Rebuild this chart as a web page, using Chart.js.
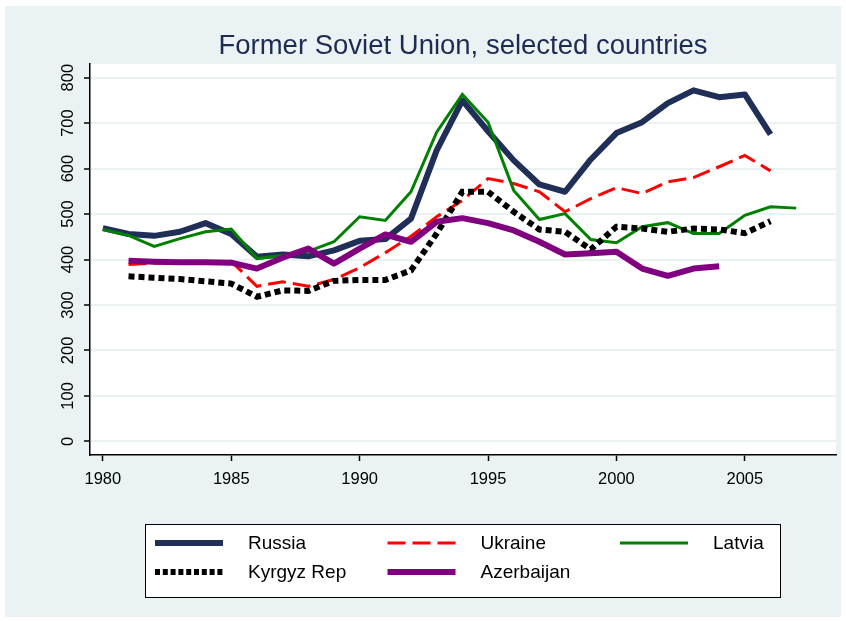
<!DOCTYPE html>
<html>
<head>
<meta charset="utf-8">
<script src="https://cdn.jsdelivr.net/npm/chart.js@4.4.0/dist/chart.umd.min.js"></script>
<style>
  html, body { margin: 0; padding: 0; background: #ffffff; }
  #wrap { width: 846px; height: 621px; }
</style>
</head>
<body>
<div id="wrap"><canvas id="sovietChart" width="846" height="621"></canvas></div>
<script>
"use strict";

// Values, one entry per year (null = no data)
const years = [1980, 1981, 1982, 1983, 1984, 1985, 1986, 1987, 1988, 1989,
               1990, 1991, 1992, 1993, 1994, 1995, 1996, 1997, 1998, 1999,
               2000, 2001, 2002, 2003, 2004, 2005, 2006, 2007];

const russia     = [469, 456, 452, 461, 480, 456, 406, 411, 407, 420,
                    441, 445, 490, 640, 750, 682, 618, 565, 549, 620,
                    678, 702, 744, 772, 757, 763, 675, null];
const ukraine    = [null, 389, 392, 393, 394, 396, 341, 351, 341, 356,
                    382, 415, 451, 494, 530, 578, 567, 549, 505, 534,
                    558, 545, 571, 580, 604, 629, 595, null];
const latvia     = [466, 453, 429, 446, 461, 467, 402, 409, 418, 439,
                    494, 486, 549, 680, 763, 702, 552, 488, 501, 444,
                    437, 472, 481, 457, 457, 497, 516, 513];
const kyrgyz     = [null, 363, 360, 357, 352, 347, 318, 332, 331, 353,
                    355, 355, 376, 457, 549, 549, 505, 466, 461, 422,
                    472, 468, 461, 468, 466, 458, 484, null];
const azerbaijan = [null, 397, 395, 394, 394, 393, 380, 404, 424, 391,
                    424, 455, 439, 483, 491, 480, 464, 439, 411, 414,
                    417, 380, 364, 380, 385, null, null, null];

const xTicks = [1980, 1985, 1990, 1995, 2000, 2005];
const yTicks = [0, 100, 200, 300, 400, 500, 600, 700, 800];

const FONT = '"Liberation Sans", Arial, sans-serif';

// turns a value list into {x, y} points, skipping the missing years
function toPoints(values) {
    const points = [];
    values.forEach(function (v, i) {
        if (v !== null) {
            points.push({ x: years[i], y: v });
        }
    });
    return points;
}

// light bluish graph region + white plot region, drawn before everything
const backgroundPlugin = {
    id: 'stataBackground',
    beforeDraw(chart) {
        const ctx = chart.ctx;
        const area = chart.chartArea;
        ctx.save();
        ctx.fillStyle = '#ffffff';
        ctx.fillRect(0, 0, chart.width, chart.height);
        ctx.fillStyle = '#eaf2f3';
        ctx.fillRect(5, 6, chart.width - 10, chart.height - 10);
        ctx.fillStyle = '#ffffff';
        ctx.fillRect(area.left, area.top, area.right - area.left, area.bottom - area.top);
        ctx.restore();
    }
};

// boxed legend in a 3 column grid, like the Stata one
const boxLegendPlugin = {
    id: 'boxLegend',
    afterDraw(chart) {
        const ctx = chart.ctx;
        ctx.save();
        ctx.fillStyle = '#ffffff';
        ctx.fillRect(145, 524, 635, 73);
        ctx.strokeStyle = '#000000';
        ctx.lineWidth = 1;
        ctx.strokeRect(145.5, 524.5, 635, 73);

        chart.data.datasets.forEach(function (ds, i) {
            const col = i % 3;
            const row = Math.floor(i / 3);
            const x = 155 + col * 232.5;
            const y = 543 + row * 29;

            ctx.beginPath();
            // the dotted sample is a bit denser in the Stata key
            ctx.setLineDash(ds.legendDash || ds.borderDash || []);
            ctx.lineWidth = ds.borderWidth;
            ctx.strokeStyle = ds.borderColor;
            ctx.lineCap = 'butt';
            ctx.moveTo(x, y);
            ctx.lineTo(x + 68, y);
            ctx.stroke();
            ctx.setLineDash([]);

            ctx.fillStyle = '#000000';
            ctx.font = '19px ' + FONT;
            ctx.textBaseline = 'middle';
            ctx.textAlign = 'left';
            ctx.fillText(ds.label, x + 93, y + 1);
        });
        ctx.restore();
    }
};

const ctx = document.getElementById('sovietChart');
new Chart(ctx, {
    type: 'line',
    data: {
        datasets: [
            {
                label: 'Russia',
                data: toPoints(russia),
                borderColor: '#202f58',
                borderWidth: 6,
                borderJoinStyle: 'round',
                order: 5
            },
            {
                label: 'Ukraine',
                data: toPoints(ukraine),
                borderColor: '#ff0000',
                borderWidth: 3,
                borderDash: [18, 7],
                legendDash: [18, 7],
                order: 4
            },
            {
                label: 'Latvia',
                data: toPoints(latvia),
                borderColor: '#008000',
                borderWidth: 3,
                order: 3
            },
            {
                label: 'Kyrgyz Rep',
                data: toPoints(kyrgyz),
                borderColor: '#000000',
                borderWidth: 6,
                borderDash: [6, 4],
                legendDash: [5, 2.8],
                order: 2
            },
            {
                label: 'Azerbaijan',
                data: toPoints(azerbaijan),
                borderColor: '#800080',
                borderWidth: 6,
                borderJoinStyle: 'round',
                order: 1
            }
        ]
    },
    options: {
        responsive: false,
        animation: false,
        tension: 0,
        elements: {
            point: { radius: 0 }
        },
        layout: {
            padding: { left: 50, right: 10, top: 0, bottom: 126 }
        },
        plugins: {
            legend: { display: false },
            tooltip: { enabled: false },
            title: {
                display: true,
                text: 'Former Soviet Union, selected countries',
                color: '#1e2b52',
                fullSize: false,
                font: { family: FONT, size: 27.5, weight: 'normal' },
                padding: { top: 30, bottom: 1 }
            }
        },
        scales: {
            x: {
                type: 'linear',
                min: 1979.5,
                max: 2008.55,
                afterBuildTicks: function (scale) {
                    scale.ticks = xTicks.map(function (v) { return { value: v }; });
                },
                afterFit: function (scale) {
                    scale.height = 40;
                },
                grid: {
                    drawOnChartArea: false,
                    drawTicks: true,
                    tickLength: 6,
                    tickColor: '#000000',
                    tickWidth: 1.5
                },
                border: { display: true, color: '#000000', width: 1.5 },
                ticks: {
                    color: '#000000',
                    padding: 9,
                    maxRotation: 0,
                    font: { family: FONT, size: 16.5 },
                    callback: function (v) { return String(v); }
                }
            },
            y: {
                type: 'linear',
                min: -30,
                max: 830,
                afterBuildTicks: function (scale) {
                    scale.ticks = yTicks.map(function (v) { return { value: v }; });
                },
                afterFit: function (scale) {
                    scale.width = 40;
                },
                grid: {
                    color: '#eaf2f3',
                    lineWidth: 2,
                    drawTicks: true,
                    tickLength: 6,
                    tickColor: '#000000',
                    tickWidth: 1.5
                },
                border: { display: true, color: '#000000', width: 1.5 },
                ticks: {
                    color: '#000000',
                    padding: 2,
                    minRotation: 90,
                    maxRotation: 90,
                    crossAlign: 'center',
                    font: { family: FONT, size: 16.5 },
                    callback: function (v) { return String(v); }
                }
            }
        }
    },
    plugins: [backgroundPlugin, boxLegendPlugin]
});
</script>
</body>
</html>
